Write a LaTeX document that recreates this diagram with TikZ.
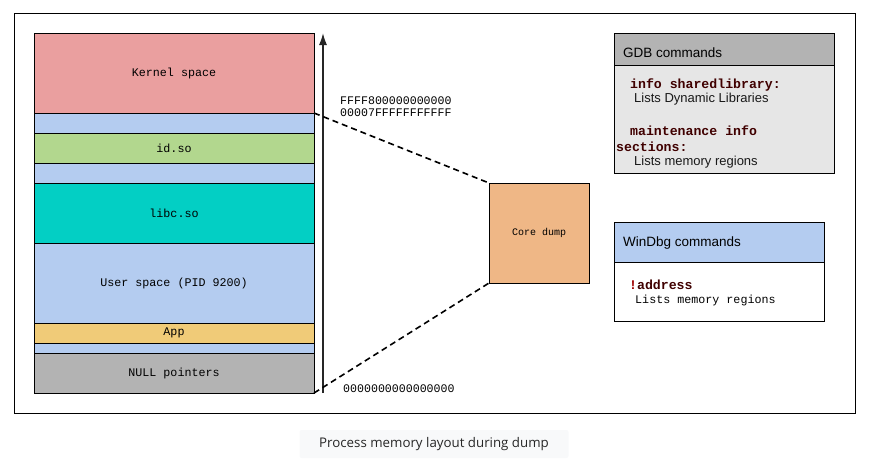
\documentclass[tikz,border=0pt]{standalone}
\usepackage{fontspec}
\setmainfont{Liberation Sans}
\newfontfamily\memfont{Liberation Mono}
\newfontfamily\capfont{Open Sans}
\usetikzlibrary{positioning,arrows.meta}
\definecolor{kernelred}{HTML}{EA9F9F}
\definecolor{gapblue}{HTML}{B4CCF0}
\definecolor{sogreen}{HTML}{B2D78E}
\definecolor{libcteal}{HTML}{03CFC4}
\definecolor{appyellow}{HTML}{F0CB78}
\definecolor{nullgray}{HTML}{B3B3B3}
\definecolor{dumporange}{HTML}{EFB786}
\definecolor{bodygray}{HTML}{E6E6E6}
\definecolor{cmdred}{HTML}{400000}
\definecolor{bangred}{HTML}{A00000}
\definecolor{capbg}{HTML}{F8F9FA}
\tikzset{
  region/.style={draw, line width=0.8pt, minimum width=280pt, minimum height=#1, inner sep=0pt, outer sep=0pt,
    font=\memfont\fontsize{11.7}{12}\selectfont},
  dumpline/.style={line width=1.6pt, dash pattern=on 6pt off 4pt},
  panel/.style={draw, line width=0.8pt, minimum width=#1, inner sep=0pt, outer sep=0pt},
  txt/.style={anchor=west, inner sep=0pt},
  title/.style={txt, font=\fontsize{13.5}{15}\selectfont},
  cmd/.style={txt, text=cmdred, font=\memfont\bfseries\fontsize{13.2}{14}\selectfont},
  note/.style={txt, text=black!90, font=\fontsize{13}{14}\selectfont}
}
\begin{document}
\begin{tikzpicture}[x=1pt, y=-1pt]
    \useasboundingbox (0,0) rectangle (869,459);
    % frame
    \draw[line width=0.8pt] (14,13) rectangle (855,413);
    % memory regions
    \node[region=80pt, fill=kernelred] (kernel) at (174,73) {Kernel space};
    \node[region=20pt, fill=gapblue, below=0pt of kernel] (gapA) {};
    \node[region=30pt, fill=sogreen, below=0pt of gapA] (idso) {id.so};
    \node[region=20pt, fill=gapblue, below=0pt of idso] (gapB) {};
    \node[region=60pt, fill=libcteal, below=0pt of gapB] (libc) {libc.so};
    \node[region=80pt, fill=gapblue, below=0pt of libc] (user) {User space (PID 9200)};
    \node[region=20pt, fill=appyellow, below=0pt of user] (app) {App};
    \node[region=10pt, fill=gapblue, below=0pt of app] (gapC) {};
    \node[region=40pt, fill=nullgray, below=0pt of gapC] (nullp) {NULL pointers};
    % address axis
    \coordinate (addrlo) at (323,393);
    \coordinate (addrhi) at (323,33);
    \draw[-{Latex[length=12pt,width=8pt]}, line width=1.6pt, black!85] (addrlo) -- (addrhi);
    \node[txt, align=left, font=\memfont\fontsize{11.6}{12}\selectfont] (topaddr) at (340,107)
        {FFFF800000000000\\00007FFFFFFFFFFF};
    \node[txt, font=\memfont\fontsize{11.6}{12}\selectfont] (lowaddr) at (343,389) {0000000000000000};
    % core dump
    \node[draw, line width=0.8pt, fill=dumporange, minimum size=100pt, inner sep=0pt, outer sep=0pt,
        font=\memfont\fontsize{10}{12}\selectfont] (core) at (539,233) {Core dump};
    \draw[dumpline] (kernel.south east) -- (core.north west);
    \draw[dumpline] (nullp.south east) -- (core.south west);
    % GDB commands
    \node[panel=220pt, fill=nullgray, minimum height=32pt, anchor=north west] (gdbhead) at (614,33) {};
    \node[panel=220pt, fill=bodygray, minimum height=108pt, anchor=north] (gdbbody) at (gdbhead.south) {};
    \node[title] (gdbtitle) at (623,53) {GDB commands};
    \node[cmd] (gdbcmdA) at (630,85) {info sharedlibrary:};
    \node[note] (gdbnoteA) at (634,99) {Lists Dynamic Libraries};
    \node[cmd] (gdbcmdB) at (630,131) {maintenance info};
    \node[cmd] (gdbcmdC) at (616,147) {sections:};
    \node[note] (gdbnoteB) at (634,162) {Lists memory regions};
    % WinDbg commands
    \node[panel=210pt, fill=gapblue, minimum height=40pt, anchor=north west] (wdbghead) at (614,222.5) {};
    \node[panel=210pt, fill=white, minimum height=59pt, anchor=north] (wdbgbody) at (wdbghead.south) {};
    \node[title] (wdbgtitle) at (623,242.5) {WinDbg commands};
    \node[cmd] (wdbgcmd) at (629,285) {\textcolor{bangred}{!}address};
    \node[txt, font=\memfont\fontsize{11.7}{13}\selectfont] (wdbgnote) at (635,300) {Lists memory regions};
    % caption
    \node[fill=capbg, rounded corners=2pt, minimum width=269pt, minimum height=28pt, text=black!85,
        font=\capfont\fontsize{13.3}{15}\selectfont] (caption) at (434,444) {Process memory layout during dump};
\end{tikzpicture}
\end{document}
